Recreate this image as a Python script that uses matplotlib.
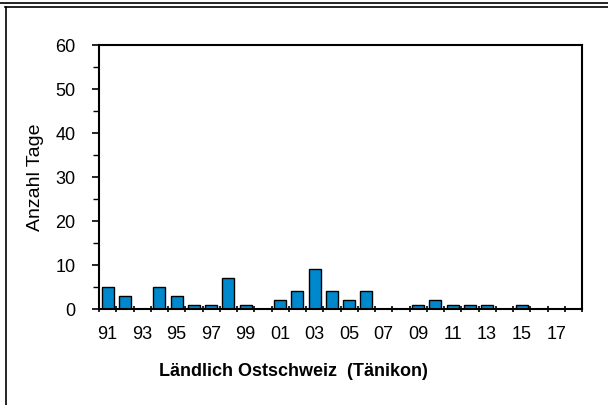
import matplotlib.pyplot as plt
import numpy as np
from matplotlib.lines import Line2D
from matplotlib.ticker import MultipleLocator

plt.rcParams['font.family'] = ['Liberation Sans', 'DejaVu Sans']

years = list(range(1991, 2019))
days = [5, 3, 0, 5, 3, 1, 1, 7, 1, 0, 2, 4, 9, 4, 2, 4, 0, 0,
        1, 2, 1, 1, 1, 0, 1, 0, 0, 0]
labels = ['%02d' % (y % 100) if (y - 1991) % 2 == 0 else '' for y in years]

fig = plt.figure(figsize=(6.08, 4.05), dpi=100)
ax = fig.add_axes([99/608, 1 - 309/405, 483/608, 264/405])

x = np.arange(len(years))
ax.bar(x, days, width=0.7, color='#0088CC', edgecolor='black', linewidth=1)

ax.set_xlim(-0.5, len(years) - 0.5)
ax.set_ylim(0, 60)
ax.yaxis.set_major_locator(MultipleLocator(10))
ax.yaxis.set_minor_locator(MultipleLocator(5))
ax.set_xticks(x)
ax.set_xticklabels(labels, fontsize=13)
ax.set_xticks(np.arange(-0.5, len(years)), minor=True)
ax.tick_params(axis='x', which='major', length=0, pad=12)
ax.tick_params(axis='x', which='minor', length=5, width=1.2, direction='inout')
ax.tick_params(axis='y', which='major', length=5, width=1.2, labelsize=13, pad=12)
ax.tick_params(axis='y', which='minor', length=4, width=1)
for s in ax.spines.values():
    s.set_linewidth(1.5)

ax.set_ylabel('Anzahl Tage', fontsize=14, labelpad=8)
ax.set_xlabel('Ländlich Ostschweiz  (Tänikon)', fontsize=13, fontweight='bold')
ax.xaxis.set_label_coords((293 - 99) / 483, -(371 - 309) / 264)
ax.xaxis.label.set_va('center')

# outer frame
fig.add_artist(Line2D([0, 1], [1 - 3/405, 1 - 3/405], transform=fig.transFigure, color='black', lw=1.2))
fig.add_artist(Line2D([5/608, 1], [1 - 6.5/405, 1 - 6.5/405], transform=fig.transFigure, color='black', lw=1.2))
fig.add_artist(Line2D([5.5/608, 5.5/608], [0, 1 - 6.5/405], transform=fig.transFigure, color='black', lw=1.2))

fig.savefig('out.png', dpi=100)
